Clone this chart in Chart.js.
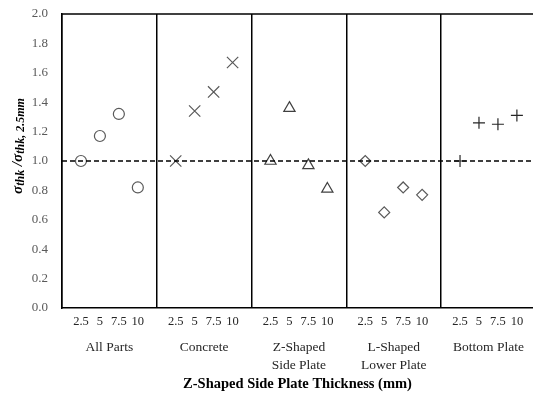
<!DOCTYPE html>
<html>
<head>
<meta charset="utf-8">
<script src="https://cdn.jsdelivr.net/npm/chart.js@4.4.1/dist/chart.umd.min.js"></script>
<style>
  html, body { margin: 0; padding: 0; background: #fff; overflow: hidden; }
  #wrap { width: 533px; height: 396px; }
  canvas { display: block; }
</style>
</head>
<body>
<div id="wrap"><canvas id="thk"></canvas></div>
<script>
// data
var groups = [['All Parts'], ['Concrete'], ['Z-Shaped', 'Side Plate'], ['L-Shaped', 'Lower Plate'], ['Bottom Plate']];
var thickness = ['2.5', '5', '7.5', '10'];
var allParts = [1.00, 1.17, 1.32, 0.82];
var concrete = [1.00, 1.34, 1.47, 1.67];
var zSidePlate = [1.00, 1.36, 0.97, 0.81];
var lLowerPlate = [1.00, 0.65, 0.82, 0.77];
var bottomPlate = [1.00, 1.26, 1.25, 1.31];
var refLevel = 1.0;

var serif = "'Liberation Serif', 'Times New Roman', serif";

function pts(vals, g) {
  return vals.map(function (v, i) { return { x: g * 5 + i + 1, y: v }; });
}

function marker(label, vals, g, style, radius, color) {
  return {
    type: 'scatter', label: label, data: pts(vals, g),
    pointStyle: style, pointRadius: radius, pointHoverRadius: radius,
    pointBorderColor: color, pointBackgroundColor: 'rgba(0,0,0,0)',
    pointBorderWidth: 1.2, showLine: false
  };
}

function noPad(s) {
  s.paddingLeft = 0; s.paddingRight = 0; s.paddingTop = 0; s.paddingBottom = 0;
}

var frameTop = {
  id: 'frameTop',
  afterDraw: function (chart) {
    var c = chart.ctx, a = chart.chartArea;
    c.save();
    c.strokeStyle = '#000';
    c.lineWidth = 1.5;
    c.beginPath();
    c.moveTo(a.left, a.top);
    c.lineTo(a.right, a.top);
    c.stroke();
    c.restore();
  }
};

// y axis title with subscripts
var yTitle = {
  id: 'yTitle',
  afterDraw: function (chart) {
    var c = chart.ctx;
    var big = 'bold italic 15px ' + serif, small = 'bold italic 12px ' + serif;
    var parts = [
      { t: '\u03C3', f: big, dy: 0 },
      { t: 'thk', f: small, dy: 3 },
      { t: ' /', f: big, dy: 0 },
      { t: '\u03C3', f: big, dy: 0 },
      { t: 'thk, 2.5mm', f: small, dy: 3 }
    ];
    c.save();
    var w = 0;
    parts.forEach(function (p) { c.font = p.f; p.w = c.measureText(p.t).width; w += p.w; });
    c.translate(18, 146);
    c.rotate(-Math.PI / 2);
    c.fillStyle = '#000';
    c.textBaseline = 'middle';
    var x = -w / 2;
    parts.forEach(function (p) {
      c.font = p.f;
      c.fillText(p.t, x, p.dy);
      x += p.w;
    });
    c.restore();
  }
};

var ctx = document.getElementById('thk');
var myChart = new Chart(ctx, {
  type: 'scatter',
  data: {
    datasets: [
      {
        type: 'line', label: 'ref', data: [{ x: 0, y: refLevel }, { x: 25, y: refLevel }],
        borderColor: '#000', borderWidth: 1.5, borderDash: [5, 3], pointRadius: 0, fill: false
      },
      marker('All Parts', allParts, 0, 'circle', 5.5, '#595959'),
      marker('Concrete', concrete, 1, 'crossRot', 8, '#595959'),
      marker('Z-Shaped Side Plate', zSidePlate, 2, 'triangle', 6.5, '#404040'),
      marker('L-Shaped Lower Plate', lLowerPlate, 3, 'rectRot', 5.5, '#595959'),
      marker('Bottom Plate', bottomPlate, 4, 'cross', 6, '#262626')
    ]
  },
  options: {
    responsive: true,
    maintainAspectRatio: false,
    animation: false,
    layout: { autoPadding: false, padding: { top: 14, left: 0, right: 0, bottom: 0 } },
    plugins: { legend: { display: false }, tooltip: { enabled: false } },
    scales: {
      x: {
        type: 'linear', position: 'bottom', weight: 0,
        min: 0, max: 24.85,
        afterBuildTicks: function (s) {
          var t = [];
          for (var g = 0; g < groups.length; g++) {
            t.push({ value: g * 5 });
            for (var i = 0; i < thickness.length; i++) t.push({ value: g * 5 + i + 1 });
          }
          s.ticks = t;
        },
        afterFit: function (s) { s.height = 26; noPad(s); },
        ticks: {
          autoSkip: false, maxRotation: 0, padding: 6,
          color: '#262626', font: { family: serif, size: 12.5 },
          callback: function (v) { return v % 5 === 0 ? '' : thickness[v % 5 - 1]; }
        },
        grid: {
          drawTicks: false, lineWidth: 1.5,
          color: function (c) { return c.tick && c.tick.value % 5 === 0 ? '#000' : 'rgba(0,0,0,0)'; }
        },
        border: { display: true, color: '#000', width: 1.5 }
      },
      x2: {
        type: 'linear', position: 'bottom', weight: 1,
        min: 0, max: 24.85,
        afterBuildTicks: function (s) {
          s.ticks = groups.map(function (g, i) { return { value: i * 5 + 2.5 }; });
        },
        afterFit: function (s) { s.height = 62; noPad(s); },
        ticks: {
          autoSkip: false, maxRotation: 0, padding: 4,
          color: '#262626', font: { family: serif, size: 13.5, lineHeight: 1.35 },
          callback: function (v, i) { return groups[i]; }
        },
        grid: { display: false, drawTicks: false },
        border: { display: false },
        title: {
          display: true, text: 'Z-Shaped Side Plate Thickness (mm)',
          color: '#000', font: { family: serif, size: 14.5, weight: 'bold' },
          padding: { top: 0, bottom: 3 }
        }
      },
      y: {
        min: 0, max: 2,
        afterFit: function (s) { s.width = 62; noPad(s); },
        ticks: {
          stepSize: 0.2, padding: 14,
          color: '#595959', font: { family: serif, size: 13 },
          callback: function (v) { return v.toFixed(1); }
        },
        grid: { display: false, drawTicks: false },
        border: { display: true, color: '#000', width: 1.5 }
      }
    }
  },
  plugins: [frameTop, yTitle]
});
</script>
</body>
</html>
